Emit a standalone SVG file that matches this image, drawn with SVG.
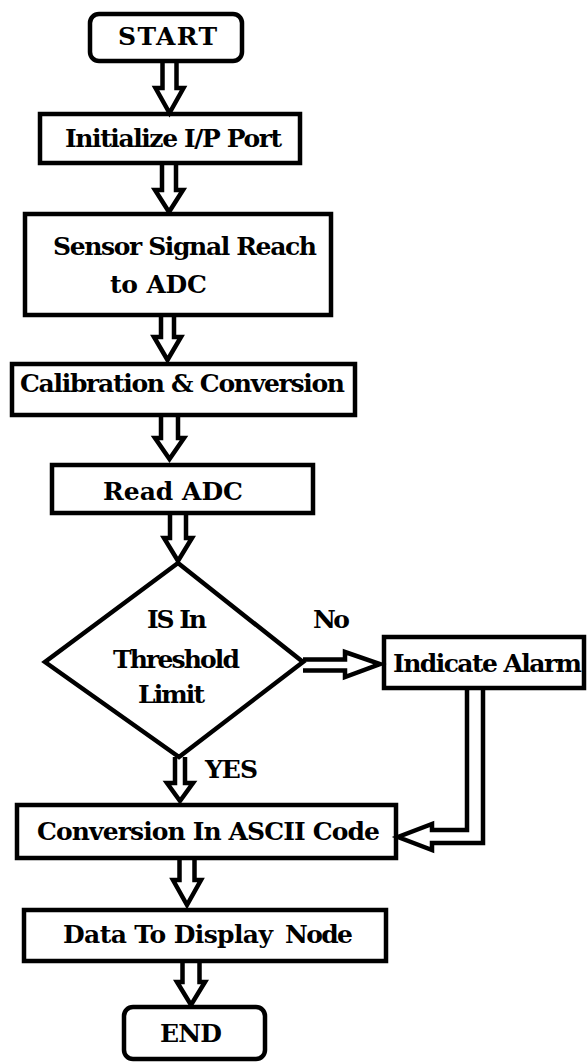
<svg xmlns="http://www.w3.org/2000/svg" width="588" height="1063" viewBox="0 0 588 1063">
<style>
.box{fill:none;stroke:#000;stroke-width:4.5}
.arr{fill:#fff;stroke:#000;stroke-width:4.5;stroke-linejoin:miter;stroke-miterlimit:10}
.t{font-family:'DejaVu Serif',serif;font-weight:700;font-size:25px;fill:#000}
</style>
<rect width="588" height="1063" fill="#fff"/>
<g id="connectors">
<polyline class="arr" points="162.5,62 162.5,88 155.5,88 169.5,113 183.5,88 176.5,88 176.5,62"/>
<polyline class="arr" points="162,163 162,190 155,190 169,212 183,190 176,190 176,163"/>
<polyline class="arr" points="161,315 161,337 154,337 167.5,360 181,337 174,337 174,315"/>
<polyline class="arr" points="161,415 161,438 155,438 169.5,459 184,438 178,438 178,415"/>
<polyline class="arr" points="170,513 170,538 164,538 178,561 192,538 186,538 186,513"/>
<polyline class="arr" points="175,757 175,783 167,783 180,801 193,783 185,783 185,757"/>
<polyline class="arr" points="179.5,858 179.5,880 173,880 187,905 201,880 194.5,880 194.5,858"/>
<polyline class="arr" points="182.5,961 182.5,982 177,982 191,1005 205,982 199.5,982 199.5,961"/>
<polyline class="arr" points="303,659.5 345,659.5 345,652 380,664 345,677 345,670.5 303,670.5"/>
<polyline class="arr" points="467,688 467,830 432,830 432,824 398,837 432,850 432,843 483,843 483,688"/>
</g>
<g id="start"><rect class="box" x="90" y="14" width="152" height="47" rx="9"/><text class="t" x="118" y="45" textLength="99">START</text></g>
<g id="init"><rect class="box" x="40" y="114" width="260" height="49"/><text class="t" x="65" y="147" textLength="217">Initialize I/P Port</text></g>
<g id="sensor"><rect class="box" x="25" y="214" width="306" height="101"/><text class="t" x="53" y="255" textLength="264">Sensor Signal Reach</text><text class="t" x="110" y="293" textLength="97">to ADC</text></g>
<g id="calib"><rect class="box" x="12" y="364" width="343" height="51"/><text class="t" x="20" y="392" textLength="325">Calibration &amp; Conversion</text></g>
<g id="read"><rect class="box" x="52" y="465" width="261" height="48"/><text class="t" x="103" y="500" textLength="140">Read ADC</text></g>
<g id="decision"><polygon class="box" points="178,563 303,662 179,757 45,662"/><text class="t" x="147" y="628" textLength="60">IS In</text><text class="t" x="113" y="668" textLength="127">Threshold</text><text class="t" x="138" y="703" textLength="67">Limit</text></g>
<g id="labels"><text class="t" x="313" y="628" textLength="37">No</text><text class="t" x="205" y="778" textLength="53">YES</text></g>
<g id="alarm"><rect class="box" x="384" y="637" width="200" height="51"/><text class="t" x="393" y="672" textLength="189">Indicate Alarm</text></g>
<g id="ascii"><rect class="box" x="17" y="805" width="379" height="53"/><text class="t" x="37" y="840" textLength="343">Conversion In ASCII Code</text></g>
<g id="display"><rect class="box" x="24" y="910" width="362" height="51"/><text class="t" y="943"><tspan x="63" textLength="210">Data To Display</tspan> <tspan x="285" textLength="68">Node</tspan></text></g>
<g id="end"><rect class="box" x="124" y="1007" width="141" height="52" rx="9"/><text class="t" x="160" y="1042" textLength="62">END</text></g>
</svg>
